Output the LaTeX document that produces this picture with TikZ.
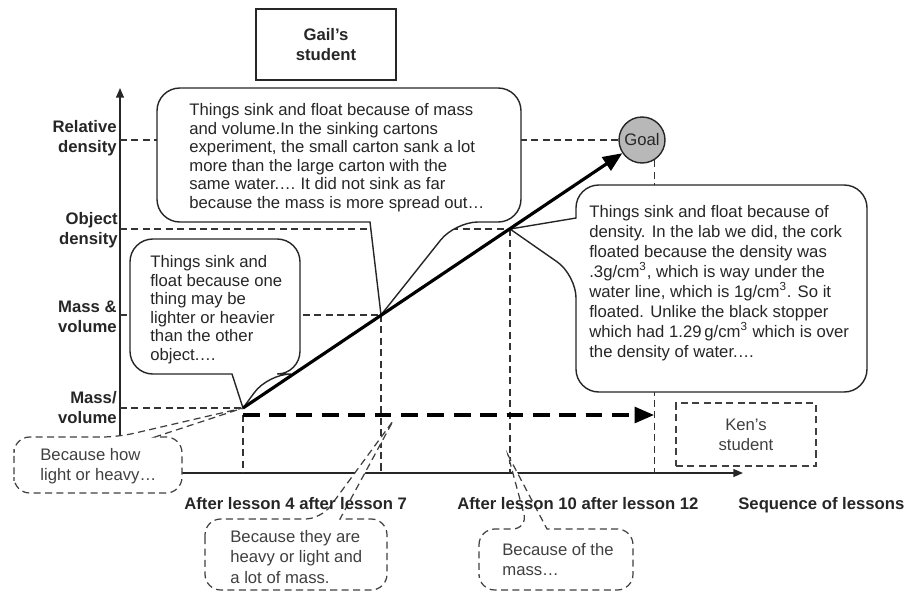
\documentclass[tikz,border=0pt]{standalone}
\usepackage{fontspec}
\setmainfont{Liberation Sans}
\usepackage{tikz}
\usetikzlibrary{calc,positioning,arrows.meta}

\begin{document}
\begin{tikzpicture}[x=0.02cm,y=-0.02cm,
  txt/.style={inner sep=0pt,align=left,anchor=north west,font=\fontsize{9.5}{10.6}\selectfont,text=black!85},
  thtxt/.style={inner sep=0pt,align=left,anchor=north west,font=\fontsize{9.5}{11.6}\selectfont,text=black!75},
  lbl/.style={inner sep=0pt,align=right,anchor=north east,font=\fontsize{9.5}{11.3}\selectfont\bfseries,text=black!85},
  xlbl/.style={inner sep=0pt,anchor=north west,font=\fontsize{9.5}{11.3}\selectfont\bfseries,text=black!85},
  guide/.style={draw=black!80,line width=0.6pt,dash pattern=on 4pt off 2.5pt},
  bubble/.style={draw=black!85,fill=white,line width=0.8pt,rounded corners=13pt},
  thought/.style={draw=black!75,fill=white,line width=0.7pt,dash pattern=on 4pt off 2.5pt,rounded corners=9pt},
  trend/.style={draw=black,line width=1.8pt,-{Triangle[length=11pt,width=9pt]}}]

\useasboundingbox (0,0) rectangle (907,593);

% axes and the points on the line
\coordinate (O) at (120,473);
\coordinate (ytop) at (120,88);
\coordinate (xend) at (743,473);
\coordinate (p4) at (243,408);
\coordinate (p7) at (381,315);
\coordinate (p10) at (510,229);
\coordinate (k4) at (243,415);
\coordinate (k12) at (654,415);
\coordinate (t7) at (393,421);
\coordinate (t10) at (508,455);

\node[circle,draw=black!85,fill=black!28,line width=0.8pt,minimum size=0.92cm,inner sep=0pt,font=\fontsize{9.5}{11}\selectfont,text=black!85] (goal) at (642,140) {Goal};

\draw[draw=black!85,line width=0.8pt,-{Triangle[length=5.5pt,width=4.5pt]}] (O) -- (ytop);
\draw[draw=black!85,line width=0.8pt,-{Triangle[length=5.5pt,width=4.5pt]}] (O) -- (xend);

\draw[guide] (O |- goal) -- (goal);
\draw[guide] (O |- p10) -- (p10);
\draw[guide] (O |- p7) -- (p7);
\draw[guide] (O |- p4) -- (p4);
\draw[guide] (k4) -- (k4 |- O);
\draw[guide] (p7) -- (p7 |- O);
\draw[guide] (p10) -- (p10 |- O);
\draw[guide] (goal.-58) -- (goal.-58 |- O);

% speech bubbles
\draw[bubble] (157,150) -- (157,88) -- (521,88) -- (521,222) -- (455,222) [sharp corners] -- (p7) -- (370,222) [rounded corners=13pt] -- (157,222) -- cycle;
\draw[bubble] (130,300) -- (130,239) -- (300,239) -- (300,374) -- (268,374) [sharp corners] -- (p4) -- (232,374) [rounded corners=13pt] -- (130,374) -- cycle;
\draw[bubble] (700,185) -- (867,185) -- (867,392) -- (576,392) -- (576,275) [sharp corners] -- (p10) -- (576,218) [rounded corners=13pt] -- (576,185) -- cycle;

\node[txt] (say7) at (189,103) {Things sink and float because of mass\\and volume.In the sinking cartons\\experiment, the small carton sank a lot\\more than the large carton with the\\same water.… It did not sink as far\\because the mass is more spread out…};
\node[txt] (say4) at (150,255) {Things sink and\\float because one\\thing may be\\lighter or heavier\\than the other\\object.…};
\node[txt,font=\fontsize{9.5}{11.4}\selectfont] (say10) at (589,205) {Things sink and float because of\\density. In the lab we did, the cork\\floated because the density was\\.3g/cm\textsuperscript{3}, which is way under the\\water line, which is 1g/cm\textsuperscript{3}. So it\\floated. Unlike the black stopper\\which had 1.29\,g/cm\textsuperscript{3} which is over\\the density of water.…};

% thought bubbles
\draw[thought] (14,465) -- (14,437) -- (118,437) [sharp corners] -- (p4) -- (155,437) [rounded corners=9pt] -- (182,437) -- (182,493) -- (14,493) -- cycle;
\draw[thought] (205,555) -- (205,519) -- (321,519) [sharp corners] -- (t7) -- (340,519) [rounded corners=9pt] -- (387,519) -- (387,590) -- (205,590) -- cycle;
\draw[thought] (479,560) -- (479,529) -- (528,529) [sharp corners] -- (t10) -- (547,529) [rounded corners=9pt] -- (633,529) -- (633,590) -- (479,590) -- cycle;

\node[thtxt] (think4) at (40,448) {Because how\\light or heavy…};
\node[thtxt] (think7) at (230,530) {Because they are\\heavy or light and\\a lot of mass.};
\node[thtxt] (think10) at (502,543) {Because of the\\mass…};

% students
\node[draw=black!85,line width=0.8pt,minimum width=2.8cm,minimum height=1.42cm,align=center,font=\fontsize{9.5}{11.6}\selectfont\bfseries,text=black!85] (gail) at (326,44.5) {Gail’s\\student};
\node[draw=black!75,line width=0.7pt,dash pattern=on 4pt off 2.5pt,minimum width=2.8cm,minimum height=1.26cm,align=center,font=\fontsize{9.5}{11.4}\selectfont,text=black!75] (ken) at (746,434.5) {Ken’s\\student};

% axis labels
\node[lbl] (rel) at (117,120) {Relative\\density};
\node[lbl] (obj) at (118,212) {Object\\density};
\node[lbl] (mv) at (117,301) {Mass \&\\volume};
\node[lbl] (mpv) at (117,391) {Mass/\\volume};
\node[xlbl] (l47) at (184,497) {After lesson 4 after lesson 7};
\node[xlbl] (l1012) at (457,497) {After lesson 10 after lesson 12};
\node[xlbl] (seq) at (738,497) {Sequence of lessons};

\draw[trend] (p4) -- (goal);
\draw[trend,dash pattern=on 9.5pt off 5.5pt] (k4) -- (k12);
\end{tikzpicture}
\end{document}
